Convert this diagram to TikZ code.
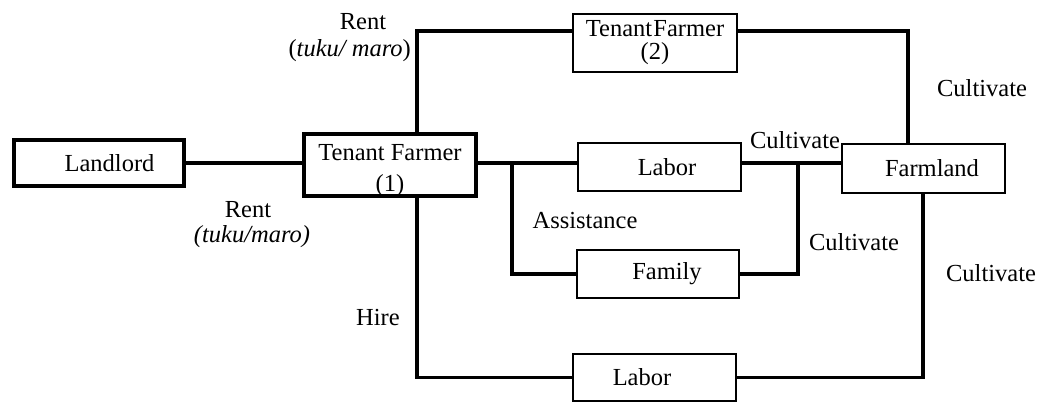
\documentclass[tikz,border=0pt]{standalone}
\usepackage{fontspec}
\setmainfont{Liberation Serif}
\begin{document}
\begin{tikzpicture}[x=1pt,y=-1pt,
  font=\fontsize{24.5}{26}\selectfont,
  heavybox/.style={draw, line width=4.5pt, inner sep=0pt, align=center},
  lightbox/.style={draw, line width=1.5pt, inner sep=0pt, align=center},
  conn/.style={line width=3.5pt},
  lbl/.style={inner sep=0pt, align=center}]
\useasboundingbox (0,0) rectangle (1051,403);
% boxes
\node[heavybox, minimum width=170pt, minimum height=46pt] (land) at (99,163) {\hspace*{21pt}Landlord};
\node[heavybox, minimum width=172pt, minimum height=62pt] (tf1) at (390,165) {\raisebox{-12pt}[0pt][0pt]{\begin{tabular}{@{}c@{}}Tenant Farmer\\[5pt](1)\end{tabular}}};
\node[lightbox, minimum width=164pt, minimum height=58pt] (tf2) at (655,43) {Tenant\hspace{0.05em}Farmer\\[-3pt](2)};
\node[lightbox, minimum width=163pt, minimum height=48pt] (lab1) at (659.5,167) {\hspace*{15pt}Labor};
\node[lightbox, minimum width=163pt, minimum height=49pt] (farm) at (923.5,168.5) {\hspace*{17pt}Farmland};
\node[lightbox, minimum width=162pt, minimum height=48pt] (fam) at (658,274) {\hspace*{18pt}Family};
\node[lightbox, minimum width=163pt, minimum height=47pt] (lab2) at (654.5,377.5) {Labor\hspace*{25pt}};
% helper coordinates
\coordinate (topy) at (417,31);
\coordinate (midy) at (0,163);
\coordinate (tfx) at (417,0);
\coordinate (tf2x) at (908,0);
\coordinate (brx) at (512,0);
\coordinate (famx) at (798,0);
\coordinate (farmx) at (923,0);
% connectors
\draw[conn] (land.east |- midy) -- (tf1.west |- midy);
\draw[conn] (tf1.north -| tfx) |- (tf2.west |- topy);
\draw[conn] (tf2.east |- topy) -| (farm.north -| tf2x);
\draw[conn] (tf1.east |- midy) -- (lab1.west |- midy);
\draw[conn] (brx |- midy) |- (fam.west);
\draw[conn] (lab1.east |- midy) -- (farm.west |- midy);
\draw[conn] (fam.east) -| (famx |- midy);
\draw[conn] (tf1.south -| tfx) |- (lab2.west);
\draw[conn] (farm.south -| farmx) |- (lab2.east);
% labels
\node[lbl] (r1) at (363,22) {Rent};
\node[lbl, anchor=east] (r1b) at (411,51) {(\textit{tuku/ maro})};
\node[lbl] (r2) at (248,210) {Rent};
\node[lbl] (r2b) at (252,237) {\textit{(tuku/maro)}};
\node[lbl] (hire) at (378,318) {Hire};
\node[lbl] (asst) at (585,221) {Assistance};
\node[lbl] (c1) at (795,140) {Cultivate};
\node[lbl] (c2) at (982,88) {Cultivate};
\node[lbl] (c3) at (854,242) {Cultivate};
\node[lbl] (c4) at (991,273) {Cultivate};
\end{tikzpicture}
\end{document}
